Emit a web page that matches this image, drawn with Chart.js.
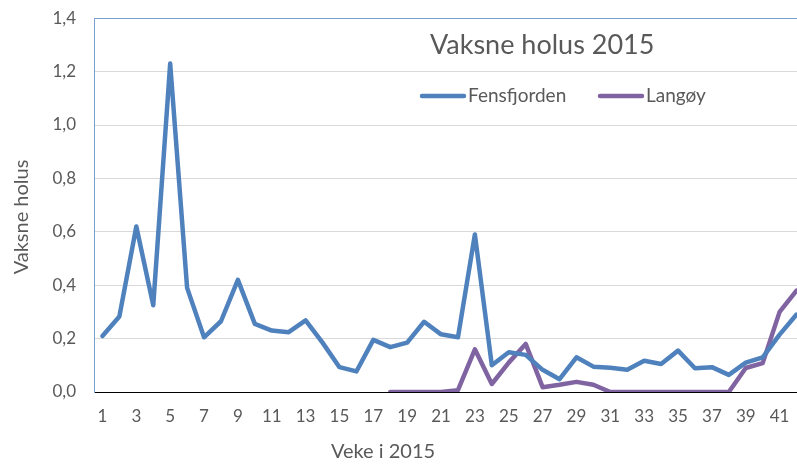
<!DOCTYPE html>
<html>
<head>
<meta charset="utf-8">
<script src="https://cdn.jsdelivr.net/npm/chart.js@4.4.0/dist/chart.umd.min.js"></script>
<style>
    html, body { margin: 0; padding: 0; background: #fff; width: 797px; height: 464px; overflow: hidden; }
    canvas { display: block; margin-top: -10px; }
</style>
</head>
<body>
<canvas id="holus-chart" width="812" height="474"></canvas>
<script>
// veke-nummer på x-aksen
const weeks = ['1', '2', '3', '4', '5', '6', '7', '8', '9', '10', '11', '12', '13', '14',
    '15', '16', '17', '18', '19', '20', '21', '22', '23', '24', '25', '26', '27', '28',
    '29', '30', '31', '32', '33', '34', '35', '36', '37', '38', '39', '40', '41', '42'];

const fensfjorden = [0.21, 0.283, 0.62, 0.325, 1.23, 0.39, 0.205, 0.265, 0.42, 0.255,
    0.23, 0.224, 0.268, 0.185, 0.093, 0.077, 0.195, 0.168, 0.185, 0.263,
    0.216, 0.205, 0.59, 0.10, 0.149, 0.139, 0.083, 0.048, 0.13, 0.095,
    0.091, 0.083, 0.117, 0.105, 0.155, 0.089, 0.093, 0.064, 0.11, 0.13,
    0.215, 0.29];

const langoy = [null, null, null, null, null, null, null, null, null, null,
    null, null, null, null, null, null, null, 0, 0, 0,
    0, 0.007, 0.16, 0.03, 0.11, 0.18, 0.018, 0.027, 0.038, 0.027,
    0, 0, 0, 0, 0, 0, 0, 0, 0.09, 0.108,
    0.30, 0.38];

const seriesNames = ['Fensfjorden', 'Langøy'];
const chartTitle = 'Vaksne holus 2015';
const xTitle = 'Veke i 2015';
const yTitle = 'Vaksne holus';

const BLUE = '#4f81bd';
const PURPLE = '#8064a2';
const TEXT = '#595959';
const FONT = 'Lato, "Open Sans", sans-serif';
// canvas er flytta 10px opp, så teksten under får +10
const SHIFT = 10;

// tittel, forklaring og aksetitlar teikna på faste stader
const overlayText = {
    id: 'overlayText',
    afterDraw: function(chart) {
        const ctx = chart.ctx;
        ctx.save();
        ctx.translate(0, SHIFT);
        ctx.fillStyle = TEXT;
        ctx.textBaseline = 'middle';

        ctx.font = '27px ' + FONT;
        ctx.textAlign = 'left';
        ctx.fillText(chartTitle, 430, 45);

        const legend = [
            { x: 420, color: BLUE, text: seriesNames[0] },
            { x: 598, color: PURPLE, text: seriesNames[1] }
        ];
        ctx.font = '19px ' + FONT;
        legend.forEach(function(item) {
            ctx.strokeStyle = item.color;
            ctx.lineWidth = 4.5;
            ctx.lineCap = 'round';
            ctx.beginPath();
            ctx.moveTo(item.x + 2, 96);
            ctx.lineTo(item.x + 44, 96);
            ctx.stroke();
            ctx.fillText(item.text, item.x + 48, 96);
        });

        ctx.font = '20px ' + FONT;
        ctx.textAlign = 'center';
        ctx.fillText(xTitle, 383, 452);

        ctx.translate(22, 217);
        ctx.rotate(-Math.PI / 2);
        ctx.fillText(yTitle, 0, 0);
        ctx.restore();
    }
};

const lineStyle = {
    borderWidth: 4.5,
    pointRadius: 0,
    pointHoverRadius: 0,
    tension: 0,
    borderJoinStyle: 'round',
    borderCapStyle: 'round',
    spanGaps: false
};

new Chart(document.getElementById('holus-chart'), {
    type: 'line',
    data: {
        labels: weeks,
        datasets: [
            Object.assign({ label: seriesNames[0], data: fensfjorden, borderColor: BLUE, backgroundColor: BLUE }, lineStyle),
            Object.assign({ label: seriesNames[1], data: langoy, borderColor: PURPLE, backgroundColor: PURPLE }, lineStyle)
        ]
    },
    options: {
        responsive: false,
        animation: false,
        layout: { padding: { top: 0, right: 7, left: 0, bottom: 0 } },
        plugins: {
            legend: { display: false },
            title: { display: false },
            tooltip: { enabled: false }
        },
        scales: {
            x: {
                offset: true,
                grid: { display: false },
                border: { display: true, color: '#000', width: 1 },
                ticks: {
                    autoSkip: false,
                    maxRotation: 0,
                    padding: 6,
                    color: TEXT,
                    font: { family: FONT, size: 17 },
                    callback: function(value, index) {
                        return index % 2 === 0 ? weeks[index] : '';
                    }
                },
                afterFit: function(scale) { scale.height = 72; }
            },
            y: {
                min: 0,
                max: 1.4,
                grid: {
                    drawTicks: false,
                    lineWidth: 1,
                    color: function(c) {
                        if (c.tick && Math.abs(c.tick.value - 1.4) < 1e-6) return '#7ba0d4';
                        if (c.tick && c.tick.value === 0) return '#000';
                        return '#d9d9d9';
                    }
                },
                border: { display: true, color: '#7ba0d4', width: 1 },
                ticks: {
                    stepSize: 0.2,
                    padding: 18,
                    color: TEXT,
                    font: { family: FONT, size: 17 },
                    callback: function(value) {
                        return value.toFixed(1).replace('.', ',');
                    }
                },
                afterFit: function(scale) { scale.width = 94; }
            }
        }
    },
    plugins: [overlayText]
});
</script>
</body>
</html>
